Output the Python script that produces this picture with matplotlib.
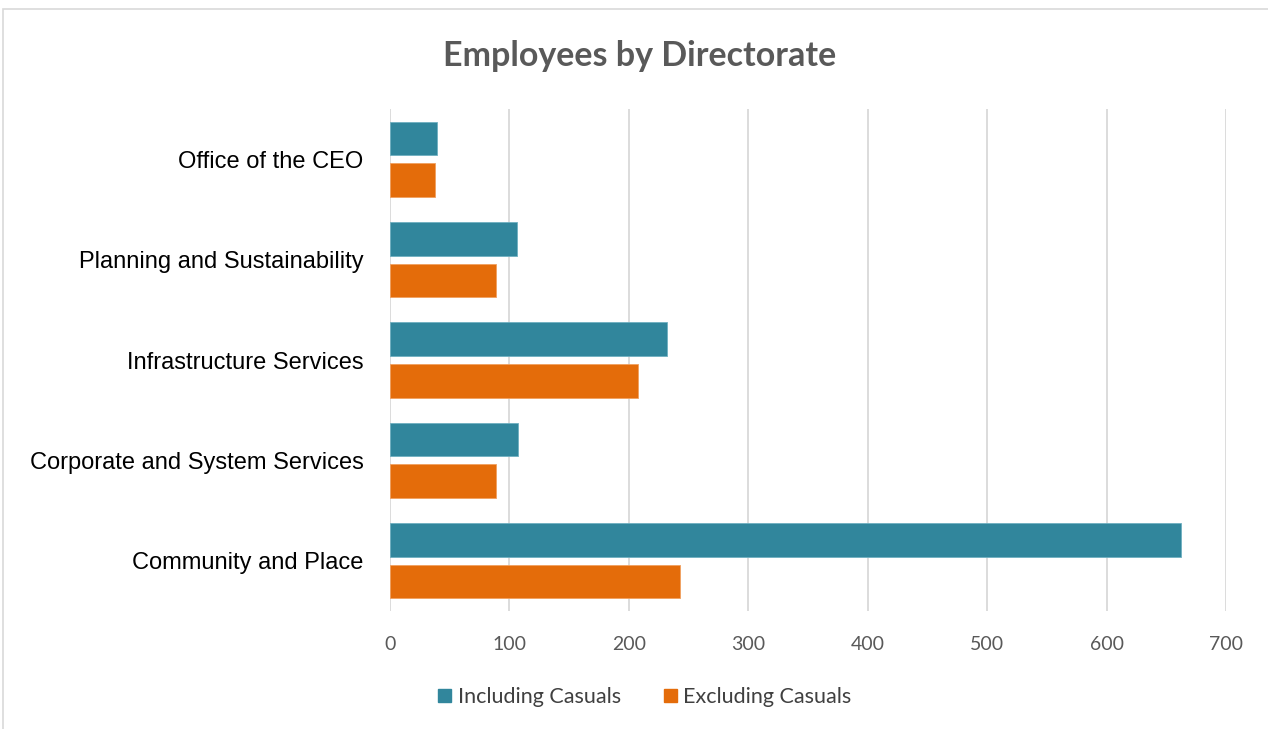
import numpy as np
import matplotlib.pyplot as plt
from matplotlib.patches import Rectangle, Patch

# данные
directorates = ["Office of the CEO", "Planning and Sustainability", "Infrastructure Services",
                "Corporate and System Services", "Community and Place"]
including_casuals = [39, 106, 232, 107, 662]
excluding_casuals = [38, 89, 208, 89, 243]
x_ticks = [0, 100, 200, 300, 400, 500, 600, 700]

teal = "#31869C"
orange = "#E46C0A"
grey_text = "#595959"

fig = plt.figure(figsize=(12.68, 7.29), dpi=100)
ax = fig.add_axes([390 / 1268, 1 - 611 / 729, (1226 - 390) / 1268, (611 - 109) / 729])

# рамка диаграммы
fig.patches.append(Rectangle((3 / 1268, -0.05), 1.1, 1 - 9 / 729 + 0.05, transform=fig.transFigure,
                             fill=False, edgecolor="#D9D9D9", linewidth=1.2))

y = np.arange(len(directorates))
h = 0.335
off = 0.2075
ax.barh(y - off, including_casuals, height=h, color=teal, edgecolor="#6FAFC0", linewidth=0.6,
        label="Including Casuals", zorder=3)
ax.barh(y + off, excluding_casuals, height=h, color=orange, edgecolor="#F0A060", linewidth=0.6,
        label="Excluding Casuals", zorder=3)

ax.set_ylim(len(directorates) - 0.5, -0.5)
ax.set_xlim(0, 700)
ax.set_xticks(x_ticks)
ax.set_yticks(y)
ax.set_yticklabels(directorates, fontsize=17, family="Liberation Sans", color="black")
ax.tick_params(axis="x", length=0, pad=18, labelsize=14, colors=grey_text)
ax.tick_params(axis="y", length=0, pad=19)
for lbl in ax.get_xticklabels():
    lbl.set_family("Lato")

ax.grid(axis="x", color="#D9D9D9", linewidth=1.3, zorder=0)
for s in ax.spines.values():
    s.set_visible(False)

fig.text(640 / 1268, 1 - 56 / 729, "Employees by Directorate", ha="center", va="center",
         fontsize=24.5, fontweight="bold", family="Lato", color=grey_text)

handles = [Patch(color=teal, label="Including Casuals"), Patch(color=orange, label="Excluding Casuals")]
fig.legend(handles=handles, loc="center", bbox_to_anchor=(645 / 1268, 1 - 697 / 729), ncol=2,
           frameon=False, prop={"family": "Lato", "size": 15.5}, labelcolor="#404040",
           handlelength=0.6, handleheight=0.6, handletextpad=0.3, columnspacing=2.0)

plt.savefig("out.png", dpi=100)
